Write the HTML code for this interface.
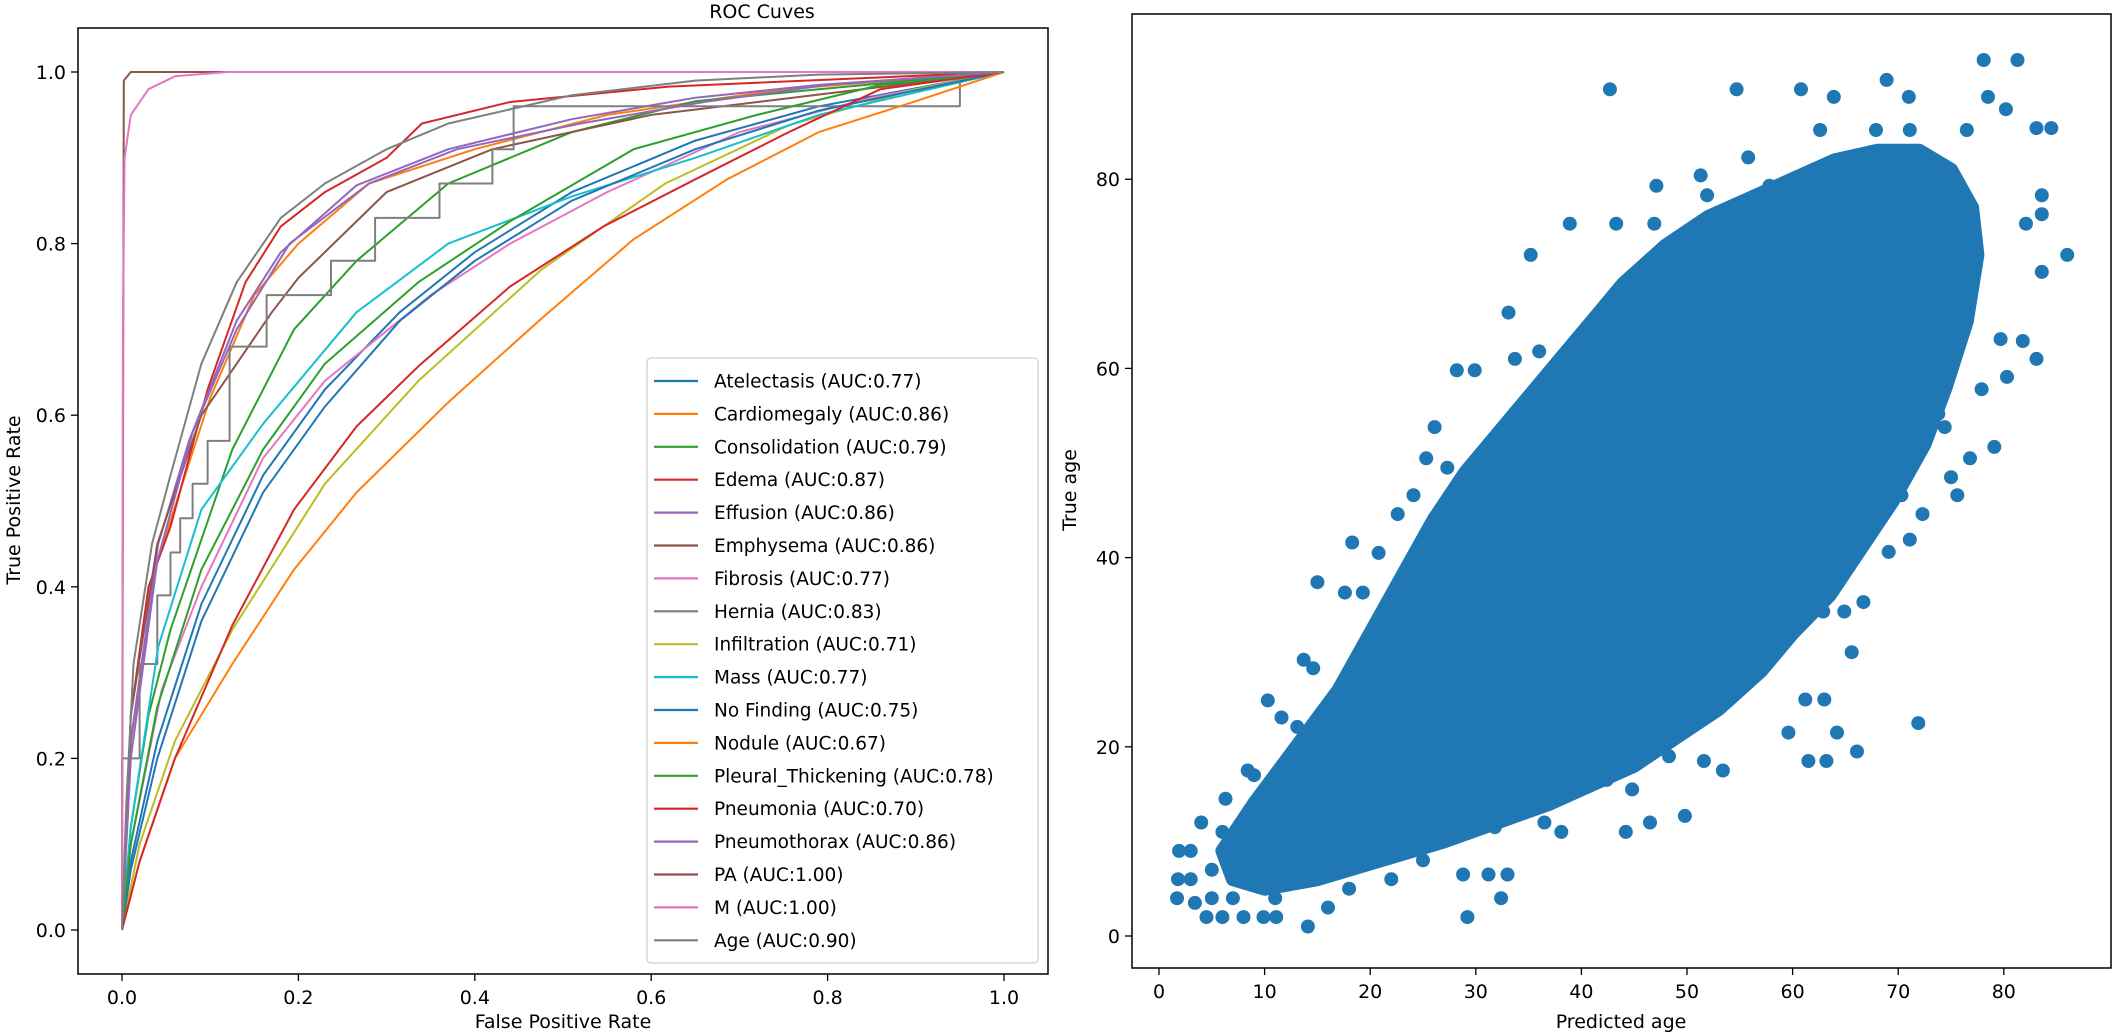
<!DOCTYPE html>
<html><head><meta charset="utf-8"><style>
body{margin:0;background:#fff;}
svg{display:block;font-family:"DejaVu Sans","Liberation Sans",sans-serif;}
</style></head><body>
<svg id="s" width="2112" height="1033" viewBox="0 0 2112 1033">
<defs>
<clipPath id="cl"><rect x="78" y="28" width="970" height="946"/></clipPath>
<clipPath id="cr"><rect x="1132" y="14" width="979" height="954"/></clipPath>
</defs>
<rect x="0" y="0" width="2112" height="1033" fill="#fff"/>
<text x="762" y="18" font-size="19" text-anchor="middle" fill="#000">ROC Cuves</text>
<g id="roc" clip-path="url(#cl)"></g>
<rect x="78" y="28" width="970" height="946" fill="none" stroke="#000" stroke-width="1.5"/>
<g id="lax"></g>
<g id="leg"></g>
<g id="sc" clip-path="url(#cr)"></g>
<rect x="1132" y="14" width="979" height="954" fill="none" stroke="#000" stroke-width="1.5"/>
<g id="rax"></g>
<text x="563" y="1028" font-size="19" text-anchor="middle">False Positive Rate</text>
<text transform="translate(20,500) rotate(-90)" font-size="19" text-anchor="middle">True Positive Rate</text>
<text x="1621" y="1028" font-size="19" text-anchor="middle">Predicted age</text>
<text transform="translate(1076,490) rotate(-90)" font-size="19" text-anchor="middle">True age</text>
</svg>
<script>
const rocNames=["Atelectasis","Cardiomegaly","Consolidation","Edema","Effusion","Emphysema","Fibrosis","Hernia","Infiltration","Mass","No Finding","Nodule","Pleural_Thickening","Pneumonia","Pneumothorax","PA","M","Age"];
const rocAuc=["0.77","0.86","0.79","0.87","0.86","0.86","0.77","0.83","0.71","0.77","0.75","0.67","0.78","0.70","0.86","1.00","1.00","0.90"];
const rocColors=["#1f77b4","#ff7f0e","#2ca02c","#d62728","#9467bd","#8c564b","#e377c2","#7f7f7f","#bcbd22","#17becf","#1f77b4","#ff7f0e","#2ca02c","#d62728","#9467bd","#8c564b","#e377c2","#7f7f7f"];
const curveAtelectasis=[[0,0],[0.01,0.08],[0.04,0.22],[0.09,0.38],[0.16,0.53],[0.23,0.63],[0.315,0.72],[0.4,0.79],[0.51,0.86],[0.65,0.92],[0.79,0.96],[1,1]];
const curveCardiomegaly=[[0,0],[0.01,0.22],[0.04,0.43],[0.1,0.62],[0.15,0.74],[0.2,0.8],[0.28,0.87],[0.4,0.91],[0.55,0.95],[0.75,0.98],[1,1]];
const curveConsolidation=[[0,0],[0.01,0.12],[0.03,0.25],[0.055,0.35],[0.125,0.56],[0.195,0.7],[0.266,0.78],[0.37,0.87],[0.51,0.93],[0.65,0.966],[0.79,0.98],[1,1]];
const curveEdema=[[0,0],[0.01,0.25],[0.03,0.4],[0.055,0.47],[0.097,0.63],[0.14,0.755],[0.18,0.82],[0.23,0.86],[0.3,0.9],[0.34,0.94],[0.44,0.965],[0.62,0.983],[1,1]];
const curveEffusion=[[0,0],[0.01,0.22],[0.041,0.45],[0.076,0.57],[0.13,0.71],[0.18,0.79],[0.266,0.868],[0.37,0.91],[0.51,0.945],[0.65,0.97],[0.79,0.985],[1,1]];
const curveEmphysema=[[0,0],[0.01,0.25],[0.04,0.45],[0.09,0.6],[0.13,0.66],[0.17,0.72],[0.2,0.76],[0.25,0.81],[0.3,0.86],[0.42,0.91],[0.6,0.95],[0.8,0.975],[1,1]];
const curveFibrosis=[[0,0],[0.01,0.1],[0.045,0.28],[0.09,0.4],[0.16,0.55],[0.23,0.64],[0.35,0.74],[0.44,0.8],[0.55,0.86],[0.7,0.93],[0.85,0.97],[1,1]];
const curveHernia=[[0,0],[0,0.2],[0.02,0.2],[0.02,0.31],[0.04,0.31],[0.04,0.39],[0.055,0.39],[0.055,0.44],[0.066,0.44],[0.066,0.48],[0.08,0.48],[0.08,0.52],[0.097,0.52],[0.097,0.57],[0.122,0.57],[0.122,0.68],[0.164,0.68],[0.164,0.74],[0.237,0.74],[0.237,0.78],[0.287,0.78],[0.287,0.83],[0.36,0.83],[0.36,0.87],[0.42,0.87],[0.42,0.91],[0.444,0.91],[0.444,0.96],[0.95,0.96],[0.95,1],[1,1]];
const curveInfiltration=[[0,0],[0.02,0.1],[0.06,0.22],[0.125,0.35],[0.23,0.52],[0.336,0.64],[0.476,0.77],[0.616,0.87],[0.756,0.938],[0.9,0.98],[1,1]];
const curveMass=[[0,0],[0.01,0.12],[0.041,0.33],[0.09,0.49],[0.16,0.59],[0.266,0.72],[0.37,0.8],[0.51,0.855],[0.65,0.9],[0.79,0.95],[1,1]];
const curveNoFinding=[[0,0],[0.01,0.07],[0.04,0.2],[0.09,0.36],[0.16,0.51],[0.23,0.61],[0.315,0.71],[0.4,0.78],[0.51,0.85],[0.65,0.91],[0.79,0.955],[1,1]];
const curveNodule=[[0,0],[0.02,0.08],[0.06,0.2],[0.125,0.31],[0.195,0.42],[0.266,0.51],[0.37,0.615],[0.476,0.713],[0.58,0.805],[0.686,0.875],[0.79,0.93],[0.9,0.966],[1,1]];
const curvePleural=[[0,0],[0.01,0.1],[0.04,0.26],[0.09,0.42],[0.16,0.56],[0.23,0.66],[0.336,0.755],[0.44,0.826],[0.58,0.91],[0.72,0.95],[0.86,0.985],[1,1]];
const curvePneumonia=[[0,0],[0.02,0.08],[0.06,0.2],[0.125,0.355],[0.195,0.49],[0.266,0.587],[0.336,0.657],[0.44,0.75],[0.546,0.82],[0.65,0.875],[0.756,0.93],[0.86,0.98],[1,1]];
const curvePneumothorax=[[0,0],[0.01,0.2],[0.04,0.43],[0.08,0.58],[0.13,0.7],[0.19,0.8],[0.28,0.87],[0.38,0.91],[0.52,0.94],[0.66,0.965],[0.8,0.985],[1,1]];
const curvePA=[[0,0],[0.002,0.99],[0.01,1],[1,1]];
const curveM=[[0,0],[0.001,0.7],[0.003,0.9],[0.01,0.95],[0.03,0.98],[0.06,0.995],[0.12,1],[1,1]];
const curveAge=[[0,0],[0.005,0.15],[0.013,0.31],[0.034,0.45],[0.055,0.53],[0.09,0.66],[0.13,0.755],[0.18,0.83],[0.23,0.87],[0.3,0.91],[0.37,0.94],[0.51,0.973],[0.65,0.99],[0.79,0.997],[1,1]];
const rocCurves=[curveAtelectasis,curveCardiomegaly,curveConsolidation,curveEdema,curveEffusion,curveEmphysema,curveFibrosis,curveHernia,curveInfiltration,curveMass,curveNoFinding,curveNodule,curvePleural,curvePneumonia,curvePneumothorax,curvePA,curveM,curveAge];
const rocTicks=["0.0","0.2","0.4","0.6","0.8","1.0"];
const blobX=[6,9,13,17,20,23,26,29,32,35,38,41,44,48,52,56,60,64,68,72,75,77,77.5,76.5,74.5,72.5,69.5,66.5,63.5,60,57,53,49,45,41,37,32,27,21,15,10,7];
const blobY=[9,14,20,26,32,38,44,49,53,57,61,65,69,73,76,78,80,82,83,83,81,77,72,65,58,52,46,41,36,32,28,24,21,18,16,14,12,10,8,6,5,6];
const ptX=[42.7,54.7,60.8,68.9,78.1,81.3,63.9,71.0,78.5,80.2,83.1,84.5,62.6,67.9,71.1,76.5,55.8,51.3,47.1,51.9,57.8,38.9,43.3,46.9,83.6,83.6,82.1,86.0,83.6,81.8,83.1,80.3,79.1,75.6,76.8,74.4,
35.2,33.1,28.2,29.9,33.7,36.0,26.1,25.3,27.3,24.1,22.6,18.3,20.8,15.0,17.6,19.3,13.7,14.6,10.3,11.6,13.1,8.4,6.3,1.9,1.8,1.7,3.4,4.5,6.0,9.9,11.1,14.1,
29.2,32.4,28.8,31.2,33.0,24.7,21.7,28.2,31.8,38.1,36.5,44.2,46.5,49.8,53.4,51.6,48.3,44.8,42.4,59.6,61.5,63.2,66.1,64.2,71.9,63.0,61.2,65.6,66.7,64.9,62.9,71.1,69.1,72.3,70.3,75.0,73.8,77.9,79.7,
3,4,5,6,7,8,9,10,11,12,13,14,5,8,3,15,17,19,12,9,16,22,25,18];
const ptY=[89.5,89.5,89.5,90.5,92.6,92.6,88.7,88.7,88.7,87.4,85.4,85.4,85.2,85.2,85.2,85.2,82.3,80.4,79.3,78.3,79.3,75.3,75.3,75.3,78.3,76.3,75.3,72.0,70.2,62.9,61.0,59.1,51.7,46.6,50.5,53.8,
72.0,65.9,59.8,59.8,61.0,61.8,53.8,50.5,49.5,46.6,44.6,41.6,40.5,37.4,36.3,36.3,29.2,28.3,24.9,23.1,22.1,17.5,14.5,9,6,4,3.5,2,2,2,2,1,
2,4,6.5,6.5,6.5,9.5,11.5,11.5,11.5,11,12,11,12,12.7,17.5,18.5,19,15.5,16.5,21.5,18.5,18.5,19.5,21.5,22.5,25,25,30,35.3,34.3,34.3,41.9,40.6,44.6,46.6,48.5,55.2,57.8,63.1,
9,12,7,11,4,9,12,7,4,10,14,8,4,2,6,12,10,14,17,17,3,6,8,5];
const ageXTicks=[0,10,20,30,40,50,60,70,80];
const ageYTicks=[0,20,40,60,80];

const NS="http://www.w3.org/2000/svg";
function mk(tag,attrs,parent){const e=document.createElementNS(NS,tag);for(const k in attrs)e.setAttribute(k,attrs[k]);parent.appendChild(e);return e;}
const rx=v=>122+v*882, ry=v=>930-v*858;
const sx=v=>1159+v*10.56, sy=v=>936-v*9.46;

const roc=document.getElementById('roc');
rocCurves.forEach((c,i)=>{
  const p=mk('polyline',{points:c.map(d=>rx(d[0]).toFixed(1)+','+ry(d[1]).toFixed(1)).join(' '),fill:'none',stroke:rocColors[i],'stroke-width':2,'stroke-linejoin':'round'},roc);
  
  
});
const lax=document.getElementById('lax');
rocTicks.forEach((t,i)=>{
  const v=parseFloat(t);
  const a=mk('line',{x1:rx(v),x2:rx(v),y1:974,y2:981,stroke:'#000','stroke-width':1.3},lax);
  
  
  const b=mk('text',{x:rx(v),y:1004,'font-size':19,'text-anchor':'middle'},lax);b.textContent=t;
  
  
  const c=mk('line',{x1:71,x2:78,y1:ry(v),y2:ry(v),stroke:'#000','stroke-width':1.3},lax);
  
  
  const d=mk('text',{x:66,y:ry(v)+7,'font-size':19,'text-anchor':'end'},lax);d.textContent=t;
  
  
});
const leg=document.getElementById('leg');
const lb=mk('rect',{x:647,y:358,width:391,height:605,rx:4,fill:'#fff','fill-opacity':0.8,stroke:'#d0d0d0','stroke-width':1.3},leg);


rocNames.forEach((n,i)=>{
  const y=381+i*32.9;
  const l=mk('line',{x1:654,x2:698,y1:y,y2:y,stroke:rocColors[i],'stroke-width':2.2},leg);
  
  
  const t=mk('text',{x:714,y:y+6.5,'font-size':18.5},leg);t.textContent=n+' (AUC:'+rocAuc[i]+')';
  
  
});
const sc=document.getElementById('sc');
const blob=mk('polygon',{points:blobX.map((x,i)=>sx(x).toFixed(1)+','+sy(blobY[i]).toFixed(1)).join(' '),fill:'#1f77b4',stroke:'#1f77b4','stroke-width':14,'stroke-linejoin':'round'},sc);


ptX.forEach((x,i)=>{
  const c=mk('circle',{cx:sx(x).toFixed(1),cy:sy(ptY[i]).toFixed(1),r:7,fill:'#1f77b4'},sc);
  
  
});
const rax=document.getElementById('rax');
ageXTicks.forEach(v=>{
  const a=mk('line',{x1:sx(v),x2:sx(v),y1:968,y2:975,stroke:'#000','stroke-width':1.3},rax);
  
  
  const b=mk('text',{x:sx(v),y:998,'font-size':19,'text-anchor':'middle'},rax);b.textContent=v;
  
  
});
ageYTicks.forEach(v=>{
  const a=mk('line',{x1:1125,x2:1132,y1:sy(v),y2:sy(v),stroke:'#000','stroke-width':1.3},rax);
  
  
  const b=mk('text',{x:1120,y:sy(v)+7,'font-size':19,'text-anchor':'end'},rax);b.textContent=v;
  
  
});
</script>
</body></html>
